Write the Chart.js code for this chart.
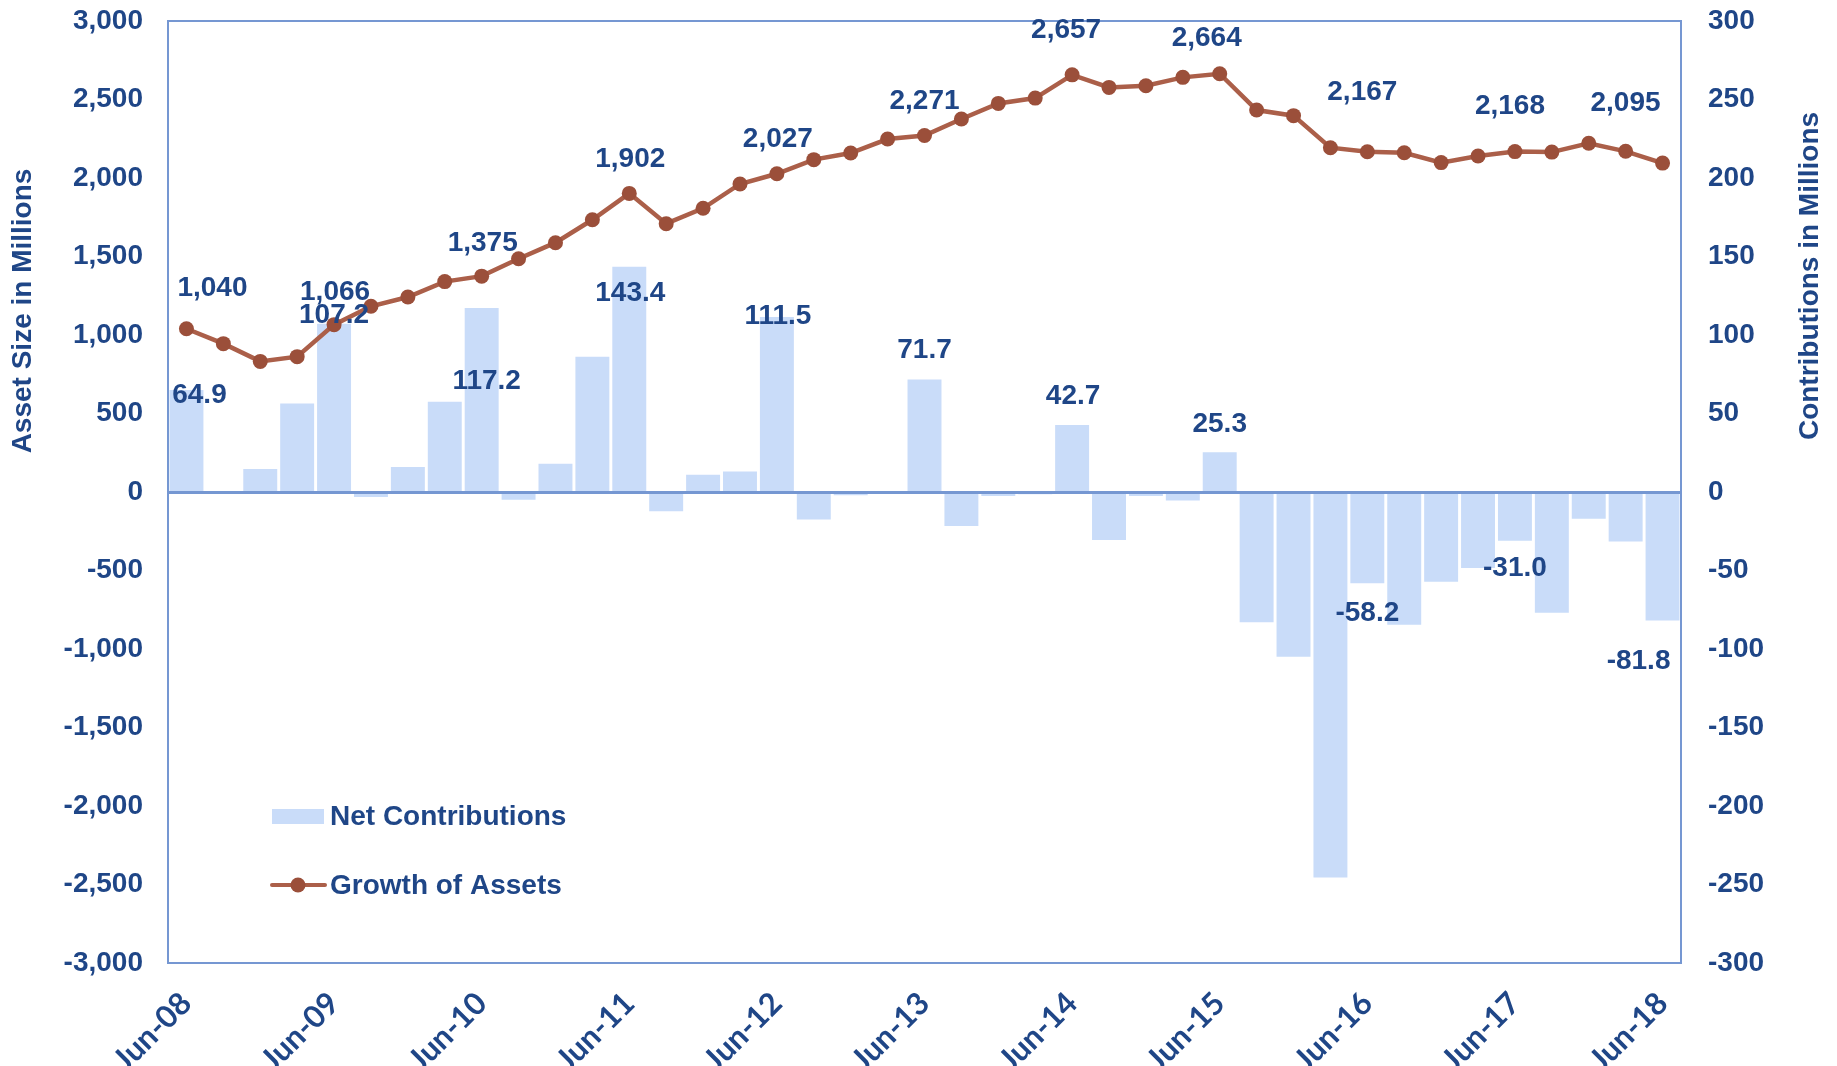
<!DOCTYPE html>
<html>
<head>
<meta charset="utf-8">
<title>Asset Growth and Net Contributions</title>
<script src="https://cdn.jsdelivr.net/npm/chart.js@4/dist/chart.umd.min.js"></script>
<style>
  html, body { margin: 0; padding: 0; background: #fff; }
  canvas { display: block; }
</style>
</head>
<body>
<canvas id="chart" width="1837" height="1066"></canvas>
<script>
/* quarterly series, Jun-08 .. Jun-18 */
var QUARTERS = [
  'Jun-08', 'Sep-08', 'Dec-08', 'Mar-09', 'Jun-09', 'Sep-09', 'Dec-09', 'Mar-10',
  'Jun-10', 'Sep-10', 'Dec-10', 'Mar-11', 'Jun-11', 'Sep-11', 'Dec-11', 'Mar-12',
  'Jun-12', 'Sep-12', 'Dec-12', 'Mar-13', 'Jun-13', 'Sep-13', 'Dec-13', 'Mar-14',
  'Jun-14', 'Sep-14', 'Dec-14', 'Mar-15', 'Jun-15', 'Sep-15', 'Dec-15', 'Mar-16',
  'Jun-16', 'Sep-16', 'Dec-16', 'Mar-17', 'Jun-17', 'Sep-17', 'Dec-17', 'Mar-18',
  'Jun-18'
];
// net contributions, $ millions (right axis)
var NET_CONTRIB = [
  64.9, 0, 14.6, 56.3, 107.2, -3.2, 15.9, 57.5,
  117.2, -4.9, 18.0, 86.2, 143.4, -12.3, 11.0, 13.0,
  111.5, -17.5, -2.1, 0, 71.7, -21.7, -2.5, -1.4,
  42.7, -30.6, -2.5, -5.4, 25.3, -83.0, -104.9, -245.6,
  -58.2, -84.5, -57.1, -48.4, -31.0, -76.9, -17.0, -31.6,
  -81.8
];
// asset size, $ millions (left axis)
var ASSETS = [
  1040, 945, 832, 862, 1066, 1183, 1242, 1340,
  1375, 1486, 1588, 1734, 1902, 1709, 1807, 1962,
  2027, 2117, 2159, 2248, 2271, 2376, 2475, 2509,
  2657, 2577, 2588, 2641, 2664, 2433, 2397, 2193,
  2167, 2161, 2098, 2140, 2168, 2165, 2221, 2170,
  2095
];
var LEFT_RANGE = [-3000, 3000, 500];
var RIGHT_RANGE = [-300, 300, 50];
var SERIES_NAMES = ['Net Contributions', 'Growth of Assets'];
var AXIS_TITLES = ['Asset Size in Millions', 'Contributions in Millions'];

var TEXT = '#1f4687';
var BAR = '#c9dcf9';
var LINE = '#ab5f49';
var MARKER = '#9b4f3a';
var AXIS = '#7597d2';
var FONT = '"Liberation Sans", Arial, sans-serif';

// only the June quarters get labels
var JUNE = [];
QUARTERS.forEach(function (q, i) { if (q.indexOf('Jun') === 0) { JUNE.push(i); } });

function fmt(v) { return Math.round(v).toLocaleString('en-US'); }

/* plot frame + zero line */
var framePlugin = {
  id: 'frame',
  afterDatasetsDraw: function (chart) {
    var a = chart.chartArea, ctx = chart.ctx;
    ctx.save();
    ctx.strokeStyle = AXIS;
    ctx.lineWidth = 2;
    ctx.strokeRect(a.left, a.top, a.right - a.left, a.bottom - a.top);
    var y0 = Math.round(chart.scales.y.getPixelForValue(0)) + 0.5;
    ctx.lineWidth = 3;
    ctx.beginPath(); ctx.moveTo(a.left, y0); ctx.lineTo(a.right, y0); ctx.stroke();
    ctx.restore();
  }
};

/* data labels at the June points, nudged like the original */
var labelPlugin = {
  id: 'valueLabels',
  afterDraw: function (chart, args, opts) {
    var ctx = chart.ctx;
    ctx.save();
    ctx.font = 'bold 28px ' + FONT;
    ctx.fillStyle = TEXT;
    ctx.textAlign = 'center';
    ctx.textBaseline = 'middle';
    opts.sets.forEach(function (set) {
      var meta = chart.getDatasetMeta(set.dataset);
      var data = chart.data.datasets[set.dataset].data;
      JUNE.forEach(function (idx, k) {
        var el = meta.data[idx];
        var off = set.offsets[k] || [0, 0];
        ctx.fillText(set.format(data[idx]), el.x + off[0], el.y + off[1]);
      });
    });
    ctx.restore();
  }
};

/* axis titles and the in-plot legend */
var decorPlugin = {
  id: 'decor',
  afterDraw: function (chart) {
    var ctx = chart.ctx;
    ctx.save();
    ctx.fillStyle = TEXT;
    ctx.font = 'bold 28px ' + FONT;
    ctx.textAlign = 'center';
    ctx.textBaseline = 'middle';
    [[23, 311, AXIS_TITLES[0]], [1810, 276, AXIS_TITLES[1]]].forEach(function (t) {
      ctx.save();
      ctx.translate(t[0], t[1]);
      ctx.rotate(-Math.PI / 2);
      ctx.fillText(t[2], 0, 0);
      ctx.restore();
    });
    // legend
    ctx.fillStyle = BAR;
    ctx.fillRect(272, 809, 52, 15);
    ctx.strokeStyle = LINE;
    ctx.lineWidth = 4;
    ctx.lineCap = 'round';
    ctx.beginPath(); ctx.moveTo(272, 885); ctx.lineTo(325, 885); ctx.stroke();
    ctx.fillStyle = MARKER;
    ctx.beginPath(); ctx.arc(298, 885, 7.5, 0, Math.PI * 2); ctx.fill();
    ctx.fillStyle = TEXT;
    ctx.textAlign = 'left';
    ctx.fillText(SERIES_NAMES[0], 330, 817);
    ctx.fillText(SERIES_NAMES[1], 330, 886);
    ctx.restore();
  }
};

function fixY(width) {
  return function (s) {
    s.width = width;
    s.paddingTop = 0;
    s.paddingBottom = 0;
  };
}

new Chart(document.getElementById('chart'), {
  type: 'bar',
  data: {
    labels: QUARTERS,
    datasets: [{
      type: 'line',
      label: SERIES_NAMES[1],
      data: ASSETS,
      yAxisID: 'y',
      borderColor: LINE,
      borderWidth: 4.5,
      pointRadius: 7.5,
      pointBackgroundColor: MARKER,
      pointBorderColor: MARKER,
      pointBorderWidth: 0,
      tension: 0,
      order: 0
    }, {
      type: 'bar',
      label: SERIES_NAMES[0],
      data: NET_CONTRIB,
      yAxisID: 'y1',
      backgroundColor: BAR,
      borderWidth: 0,
      categoryPercentage: 1,
      barPercentage: 0.92,
      order: 1
    }]
  },
  options: {
    responsive: false,
    animation: false,
    layout: { padding: { top: 21, left: 0, right: 0, bottom: 0 } },
    plugins: {
      legend: { display: false },
      tooltip: { enabled: false },
      valueLabels: {
        sets: [{
          dataset: 0, format: fmt,
          offsets: [[26, -40], [1, -32], [1, -33], [1, -34], [1, -34], [0, -34],
                    [-6, -45], [-13, -35], [-5, -59], [-5, -45], [-37, -60]]
        }, {
          dataset: 1, format: function (v) { return v.toFixed(1); },
          offsets: [[13, 5], [0, -8], [5, 73], [1, 26], [1, -1], [0, -29],
                    [1, -29], [0, -28], [0, 30], [0, 28], [-24, 41]]
        }]
      }
    },
    scales: {
      x: {
        type: 'category',
        offset: true,
        grid: { display: false, drawTicks: false },
        border: { display: false },
        ticks: {
          autoSkip: false,
          maxRotation: 45,
          minRotation: 45,
          padding: 22,
          color: TEXT,
          font: { family: 'Lato', size: 31, weight: 'bold' },
          callback: function (v, i) { return JUNE.indexOf(i) !== -1 ? QUARTERS[i] : ''; }
        },
        afterFit: function (s) { s.height = 103; }
      },
      y: {
        position: 'left',
        min: LEFT_RANGE[0], max: LEFT_RANGE[1],
        grid: { display: false, drawTicks: false },
        border: { display: false },
        ticks: {
          stepSize: LEFT_RANGE[2], padding: 25, color: TEXT,
          font: { family: FONT, size: 28, weight: 'bold' },
          callback: function (v) { return fmt(v); }
        },
        afterFit: fixY(168)
      },
      y1: {
        position: 'right',
        min: RIGHT_RANGE[0], max: RIGHT_RANGE[1],
        grid: { display: false, drawTicks: false },
        border: { display: false },
        ticks: {
          stepSize: RIGHT_RANGE[2], padding: 27, color: TEXT,
          font: { family: FONT, size: 28, weight: 'bold' },
          callback: function (v) { return String(v); }
        },
        afterFit: fixY(156)
      }
    }
  },
  plugins: [framePlugin, labelPlugin, decorPlugin]
});
</script>
</body>
</html>
